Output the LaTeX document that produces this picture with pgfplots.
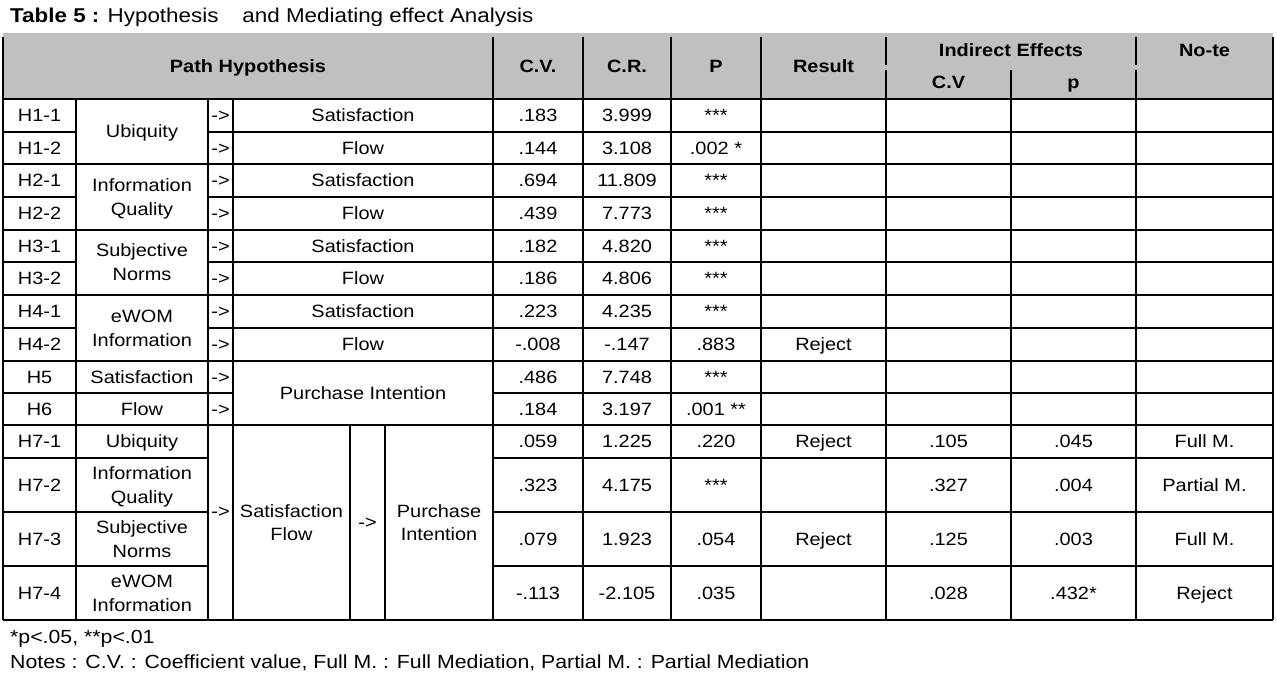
\documentclass[border=0pt]{standalone}
\usepackage{pgfplots}
\pgfplotsset{compat=1.18}
\usepackage{fontspec}
\setmainfont{Liberation Sans}[FakeStretch=1.12]
\definecolor{hdr}{HTML}{C0C0C0}
\newcommand\bodyfont{\fontsize{17.8bp}{21bp}\selectfont}
\newcommand\notefont{\fontsize{19bp}{22bp}\selectfont}
\newcommand\titlefont{\fontsize{20bp}{23bp}\selectfont}
\tikzset{cell/.style={anchor=center, inner sep=0pt, text height=12.7bp, text depth=0pt, font=\bodyfont}}
\newcommand\cell[3]{\node[cell] at (axis cs:#1,#2) {#3};}
\newcommand\bcell[3]{\node[cell] at (axis cs:#1,#2) {\bfseries #3};}
\begin{document}
\begin{tikzpicture}
\begin{axis}[
  scale only axis, width=1277bp, height=678bp,
  xmin=0, xmax=1277, ymin=0, ymax=678, y dir=reverse,
  hide axis, clip=false, unbounded coords=jump,
]
\path (rel axis cs:0,0) rectangle (rel axis cs:1,1);
% header shading
\addplot[fill=hdr, draw=none] coordinates {(3,33) (1273,33) (1273,99) (3,99)} -- cycle;
% horizontal rules
\addplot[black, line width=1.2bp] coordinates {
 (3,99) (1273,99) (0,nan)
 (3,132) (76,132) (0,nan) (208,132) (1273,132) (0,nan)
 (3,164) (1273,164) (0,nan)
 (3,197) (76,197) (0,nan) (208,197) (1273,197) (0,nan)
 (3,230) (1273,230) (0,nan)
 (3,262) (76,262) (0,nan) (208,262) (1273,262) (0,nan)
 (3,295) (1273,295) (0,nan)
 (3,328) (76,328) (0,nan) (208,328) (1273,328) (0,nan)
 (3,361) (1273,361) (0,nan)
 (3,393) (233,393) (0,nan) (493,393) (1273,393) (0,nan)
 (3,425) (1273,425) (0,nan)
 (3,458) (208,458) (0,nan) (493,458) (1273,458) (0,nan)
 (3,512) (208,512) (0,nan) (493,512) (1273,512) (0,nan)
 (3,566) (208,566) (0,nan) (493,566) (1273,566) (0,nan)
 (3,620) (1273,620)
};
% vertical rules
\addplot[black, line width=1.2bp] coordinates {
 (3,37) (3,620) (0,nan)
 (76,99) (76,620) (0,nan)
 (208,99) (208,620) (0,nan)
 (233,99) (233,620) (0,nan)
 (350,425) (350,620) (0,nan)
 (385,425) (385,620) (0,nan)
 (493,37) (493,620) (0,nan)
 (583,37) (583,620) (0,nan)
 (671,37) (671,620) (0,nan)
 (761,37) (761,620) (0,nan)
 (886,37) (886,65) (0,nan) (886,70) (886,620) (0,nan)
 (1011,70) (1011,620) (0,nan)
 (1136,37) (1136,65) (0,nan) (1136,70) (1136,620) (0,nan)
 (1273,37) (1273,620)
};
% title
\node[anchor=base west, inner sep=0pt, font=\titlefont] at (axis cs:10,23) {\textbf{Table 5 :} Hypothesis\hspace{24bp}and Mediating effect Analysis};
% header
\bcell{248}{66}{Path Hypothesis}
\bcell{538}{66}{C.V.}
\bcell{627}{66}{C.R.}
\bcell{716}{66}{P}
\bcell{823.5}{66}{Result}
\bcell{1011}{50}{Indirect Effects}
\bcell{948.5}{82}{C.V}
\bcell{1073.5}{82}{p}
\bcell{1204.5}{50}{No-te}
% rows 1-2
\cell{39.5}{115.5}{H1-1}\cell{220.5}{115.5}{->}\cell{363}{115.5}{Satisfaction}\cell{538}{115.5}{.183}\cell{627}{115.5}{3.999}\cell{716}{115.5}{***}
\cell{39.5}{148}{H1-2}\cell{220.5}{148}{->}\cell{363}{148}{Flow}\cell{538}{148}{.144}\cell{627}{148}{3.108}\cell{716}{148}{.002 *}
\cell{142}{131.5}{Ubiquity}
% rows 3-4
\cell{39.5}{180.5}{H2-1}\cell{220.5}{180.5}{->}\cell{363}{180.5}{Satisfaction}\cell{538}{180.5}{.694}\cell{627}{180.5}{11.809}\cell{716}{180.5}{***}
\cell{39.5}{213.5}{H2-2}\cell{220.5}{213.5}{->}\cell{363}{213.5}{Flow}\cell{538}{213.5}{.439}\cell{627}{213.5}{7.773}\cell{716}{213.5}{***}
\cell{142}{185}{Information}\cell{142}{209}{Quality}
% rows 5-6
\cell{39.5}{246}{H3-1}\cell{220.5}{246}{->}\cell{363}{246}{Satisfaction}\cell{538}{246}{.182}\cell{627}{246}{4.820}\cell{716}{246}{***}
\cell{39.5}{278.5}{H3-2}\cell{220.5}{278.5}{->}\cell{363}{278.5}{Flow}\cell{538}{278.5}{.186}\cell{627}{278.5}{4.806}\cell{716}{278.5}{***}
\cell{142}{250}{Subjective}\cell{142}{274}{Norms}
% rows 7-8
\cell{39.5}{311.5}{H4-1}\cell{220.5}{311.5}{->}\cell{363}{311.5}{Satisfaction}\cell{538}{311.5}{.223}\cell{627}{311.5}{4.235}\cell{716}{311.5}{***}
\cell{39.5}{344.5}{H4-2}\cell{220.5}{344.5}{->}\cell{363}{344.5}{Flow}\cell{538}{344.5}{-.008}\cell{627}{344.5}{-.147}\cell{716}{344.5}{.883}\cell{823.5}{344.5}{Reject}
\cell{142}{316}{eWOM}\cell{142}{340}{Information}
% rows 9-10
\cell{39.5}{377}{H5}\cell{142}{377}{Satisfaction}\cell{220.5}{377}{->}\cell{538}{377}{.486}\cell{627}{377}{7.748}\cell{716}{377}{***}
\cell{39.5}{409}{H6}\cell{142}{409}{Flow}\cell{220.5}{409}{->}\cell{538}{409}{.184}\cell{627}{409}{3.197}\cell{716}{409}{.001 **}
\cell{363}{393}{Purchase Intention}
% H7 block
\cell{39.5}{441.5}{H7-1}\cell{142}{441.5}{Ubiquity}\cell{538}{441.5}{.059}\cell{627}{441.5}{1.225}\cell{716}{441.5}{.220}\cell{823.5}{441.5}{Reject}\cell{948.5}{441.5}{.105}\cell{1073.5}{441.5}{.045}\cell{1204.5}{441.5}{Full M.}
\cell{39.5}{485}{H7-2}\cell{142}{473}{Information}\cell{142}{497}{Quality}\cell{538}{485}{.323}\cell{627}{485}{4.175}\cell{716}{485}{***}\cell{948.5}{485}{.327}\cell{1073.5}{485}{.004}\cell{1204.5}{485}{Partial M.}
\cell{39.5}{539}{H7-3}\cell{142}{527}{Subjective}\cell{142}{551}{Norms}\cell{538}{539}{.079}\cell{627}{539}{1.923}\cell{716}{539}{.054}\cell{823.5}{539}{Reject}\cell{948.5}{539}{.125}\cell{1073.5}{539}{.003}\cell{1204.5}{539}{Full M.}
\cell{39.5}{593}{H7-4}\cell{142}{581}{eWOM}\cell{142}{605}{Information}\cell{538}{593}{-.113}\cell{627}{593}{-2.105}\cell{716}{593}{.035}\cell{948.5}{593}{.028}\cell{1073.5}{593}{.432*}\cell{1204.5}{593}{Reject}
\cell{220.5}{511}{->}
\cell{291.5}{511}{Satisfaction}\cell{291.5}{534}{Flow}
\cell{367.5}{522}{->}
\cell{439}{511}{Purchase}\cell{439}{534}{Intention}
% footnotes
\node[anchor=base west, inner sep=0pt, font=\notefont] at (axis cs:10,643) {*p<.05, **p<.01};
\node[anchor=base west, inner sep=0pt, font=\notefont] at (axis cs:10,668) {Notes : C.V. : Coefficient value, Full M. : Full Mediation, Partial M. : Partial Mediation};
\end{axis}
\end{tikzpicture}
\end{document}
